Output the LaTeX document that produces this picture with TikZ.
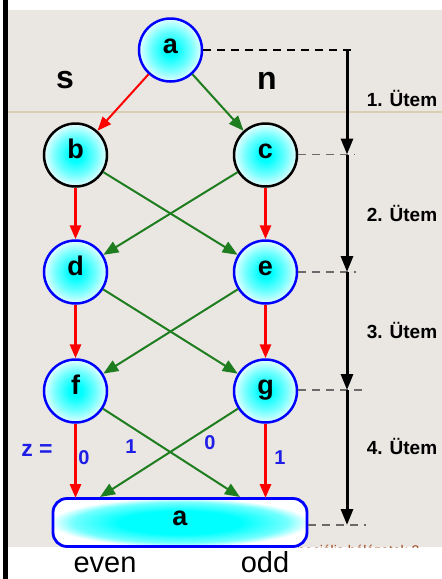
\documentclass[tikz,border=0pt]{standalone}
\usepackage{fontspec}
\setmainfont{Liberation Sans}
\usetikzlibrary{arrows.meta}

\definecolor{paper}{HTML}{EAE6E2}
\definecolor{rulecol}{HTML}{D9CEB2}
\definecolor{grn}{HTML}{1E7D1E}
\definecolor{linkred}{HTML}{FF0000}
\definecolor{zblue}{HTML}{1E1EE6}
\definecolor{faint}{HTML}{A0461E}
\definecolor{dashgray}{HTML}{6A6A6A}
\colorlet{ballin}{cyan}
\colorlet{ballmid}{cyan!55!white}
\colorlet{ballout}{cyan!10!white}

% cyan core fading to a pale rim (the path fills the inner 50bp square)
\pgfdeclareradialshading{cyanball}{\pgfpoint{0bp}{0bp}}{%
  color(0bp)=(ballin); color(5bp)=(ballin); color(16bp)=(ballmid); color(25bp)=(ballout); color(50bp)=(ballout)}
\pgfdeclareradialshading{cyanbar}{\pgfpoint{0bp}{0bp}}{%
  color(0bp)=(ballin); color(12bp)=(ballin); color(21bp)=(ballmid); color(25.5bp)=(white); color(50bp)=(white)}

\begin{document}
\begin{tikzpicture}[x=1pt,y=-1pt,
  ball/.style={circle, minimum size=63pt, inner sep=0pt, line width=2.5pt,
    draw=blue, shade, shading=cyanball,
    text height=1.5ex, text depth=.25ex,
    font=\fontsize{27}{27}\selectfont\bfseries},
  barbox/.style={rectangle, rounded corners=14pt, minimum width=254pt,
    minimum height=48pt, inner sep=0pt, line width=2.8pt, draw=blue,
    shade, shading=cyanbar, text height=1.5ex, text depth=.25ex,
    font=\fontsize{27}{27}\selectfont\bfseries},
  redarr/.style={draw=linkred, line width=3pt, -{Triangle[length=14pt,width=11pt]}},
  grnarr/.style={draw=grn, line width=2pt, -{Triangle[length=15pt,width=12pt]}},
  dashline/.style={line width=1.5pt, dash pattern=on 8pt off 6pt},
  timearr/.style={line width=3pt, -{Triangle[length=16pt,width=12pt]}},
  tlabel/.style={font=\fontsize{19}{19}\selectfont\bfseries},
  side/.style={font=\fontsize{32}{32}\selectfont\bfseries},
  zlabel/.style={text=zblue, font=\fontsize{20}{20}\selectfont\bfseries},
  parity/.style={anchor=base, font=\fontsize{29}{29}\selectfont}]

\useasboundingbox (0,0) rectangle (442,579);
\fill[white] (0,0) rectangle (442,579);
\fill[paper] (8,10) rectangle (442,547);
\draw[rulecol, line width=2pt] (8,112) -- (442,112);

% footer text of the slide, cut off by the page edge
\begin{scope}
  \clip (8,10) rectangle (442,547);
  \node[text=faint, anchor=base west, inner sep=0pt,
        font=\fontsize{14}{14}\selectfont] (footer) at (290,555) {speciális hálózatok 2};
\end{scope}
\fill[black] (3,0) rectangle (7.5,579);

% state nodes
\node[ball] (a) at (170.5,50) {a};
\node[ball, draw=black] (b) at (75.5,155) {b};
\node[ball, draw=black] (c) at (265.5,155) {c};
\node[ball] (d) at (75.5,272) {d};
\node[ball] (e) at (265.5,272) {e};
\node[ball] (f) at (75.5,391) {f};
\node[ball] (g) at (265.5,391) {g};
\node[barbox] (bar) at (180,522.5) {a};

% arrival points on the final state
\coordinate (pf) at (75.5,498);
\coordinate (pg) at (265.5,498);
\coordinate (px1) at (240,497);
\coordinate (px0) at (100,497);

% transitions
\draw[redarr, line width=2pt] (a) -- (b);
\draw[grnarr] (a) -- (c);
\draw[redarr] (b) -- (d);
\draw[redarr] (c) -- (e);
\draw[grnarr] (b) -- (e);
\draw[grnarr] (c) -- (d);
\draw[redarr] (d) -- (f);
\draw[redarr] (e) -- (g);
\draw[grnarr] (d) -- (g);
\draw[grnarr] (e) -- (f);
\draw[redarr] (f) -- (pf);
\draw[redarr] (g) -- (pg);
\draw[grnarr] (f) -- (px1);
\draw[grnarr] (g) -- (px0);

% side and output labels
\node[side] (s) at (65,80.5) {s};
\node[side] (n) at (267,80.5) {n};
\node[text=zblue, font=\fontsize{23}{23}\selectfont\bfseries] (zeq) at (37,450) {z =};
\node[zlabel] (z0l) at (84,458) {0};
\node[zlabel] (z1l) at (131,447) {1};
\node[zlabel] (z0r) at (210,443) {0};
\node[zlabel] (z1r) at (280,458) {1};
\node[parity] (even) at (105,572) {even};
\node[parity] (odd) at (265,572) {odd};

% clock-phase markers
\coordinate (m0) at (347,49);
\coordinate (m1) at (347,154.5);
\coordinate (m2) at (347,272);
\coordinate (m3) at (347,390);
\coordinate (m4) at (347,525);
\coordinate (q0) at (353,50);
\coordinate (q1) at (355,154.5);
\coordinate (q2) at (356,272);
\coordinate (q3) at (366,390);
\coordinate (q4) at (366,525);

\draw[dashline, black] (a.east) -- (q0);
\draw[dashline, dashgray] (c.east |- q1) -- (q1);
\draw[dashline, dashgray] (e.east |- q2) -- (q2);
\draw[dashline, dashgray] (g.east |- q3) -- (q3);
\draw[dashline, dashgray] (bar.east |- q4) -- (q4);

\draw[timearr] (m0) -- (m1);
\draw[timearr] (m1) -- (m2);
\draw[timearr] (m2) -- (m3);
\draw[timearr] (m3) -- (m4);

\node[tlabel] (t1) at (402,98) {1. Ütem};
\node[tlabel] (t2) at (402,213) {2. Ütem};
\node[tlabel] (t3) at (402,330) {3. Ütem};
\node[tlabel] (t4) at (402,446) {4. Ütem};
\end{tikzpicture}
\end{document}
